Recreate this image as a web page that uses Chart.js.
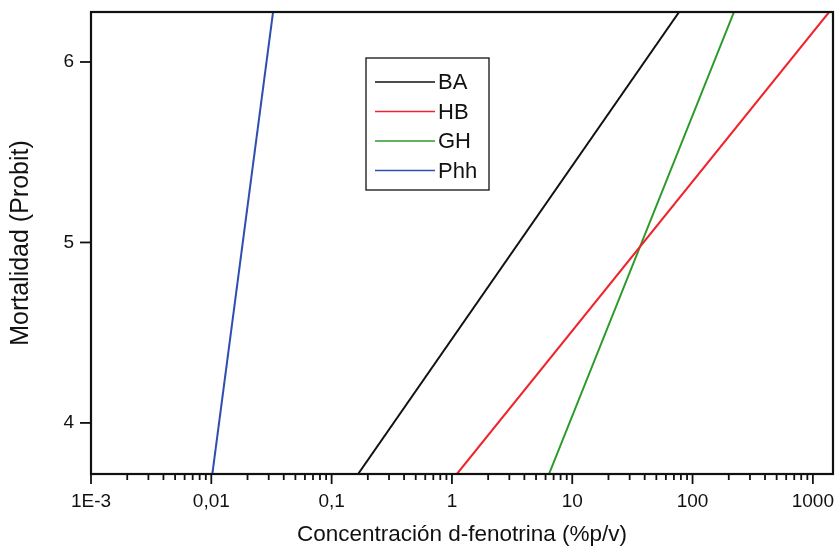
<!DOCTYPE html>
<html>
<head>
<meta charset="utf-8">
<script src="https://cdn.jsdelivr.net/npm/chart.js@4.4.1/dist/chart.umd.min.js"></script>
<style>
  html, body { margin: 0; padding: 0; background: #fff; }
  #wrap { width: 840px; height: 548px; }
</style>
</head>
<body>
<div id="wrap"><canvas id="probitChart"></canvas></div>
<script>
// Probit lines: [bottom, top] of the plot, concentration (%p/v)
const seriesLabels = ['BA', 'HB', 'GH', 'Phh'];
const probitEnds = [3.717, 6.277];
const concBA = [0.166, 77.3];
const concHB = [1.10, 1365];
const concGH = [6.41, 221];
const concPhh = [0.0102, 0.0326];

const xTickValues = [0.001, 0.01, 0.1, 1, 10, 100, 1000];
const xTickLabels = ['1E-3', '0,01', '0,1', '1', '10', '100', '1000'];
const yTickValues = [4, 5, 6];

const xMin = 0.001, xMax = 1470;
const lineColors = ['#111111', '#f0222c', '#2b9a2b', '#2f4fb0'];
const FONT = '"Liberation Sans", Arial, sans-serif';

function toPoints(conc) {
    return conc.map((c, i) => ({ x: c, y: probitEnds[i] }));
}

const allConc = [concBA, concHB, concGH, concPhh];

// own tick marks (major/minor lengths differ) + frame + legend box
const frameAndTicks = {
    id: 'frameAndTicks',
    afterDraw(chart) {
        const ctx = chart.ctx;
        const a = chart.chartArea;
        const xs = chart.scales.x, ys = chart.scales.y;
        ctx.save();
        ctx.strokeStyle = '#111';
        ctx.lineWidth = 1.8;
        xs.ticks.forEach(t => {
            const px = xs.getPixelForValue(t.value);
            const major = xTickValues.some(v => Math.abs(v - t.value) < v * 1e-6);
            ctx.beginPath();
            ctx.moveTo(px, a.bottom);
            ctx.lineTo(px, a.bottom + (major ? 10 : 6));
            ctx.stroke();
        });
        ys.ticks.forEach(t => {
            const py = ys.getPixelForValue(t.value);
            ctx.beginPath();
            ctx.moveTo(a.left, py);
            ctx.lineTo(a.left - 11, py);
            ctx.stroke();
        });
        ctx.lineWidth = 2.2;
        ctx.strokeRect(a.left, a.top, a.right - a.left, a.bottom - a.top);

        // legend
        const lx = 366, ly = 58, lw = 123, lh = 132;
        ctx.lineWidth = 1.4;
        ctx.strokeStyle = '#222';
        ctx.strokeRect(lx, ly, lw, lh);
        ctx.font = '22px ' + FONT;
        ctx.textBaseline = 'middle';
        ctx.fillStyle = '#111';
        chart.data.datasets.forEach((ds, i) => {
            const ry = 82 + i * 29.5;
            ctx.strokeStyle = ds.borderColor;
            ctx.lineWidth = 1.6;
            ctx.beginPath();
            ctx.moveTo(375, ry);
            ctx.lineTo(435, ry);
            ctx.stroke();
            ctx.fillText(ds.label, 438, ry + 1);
        });
        ctx.restore();
    }
};

new Chart(document.getElementById('probitChart'), {
    type: 'line',
    data: {
        datasets: seriesLabels.map((lab, i) => ({
            label: lab,
            data: toPoints(allConc[i]),
            borderColor: lineColors[i],
            borderWidth: 2,
            pointRadius: 0,
            fill: false,
            tension: 0
        }))
    },
    options: {
        responsive: true,
        maintainAspectRatio: false,
        animation: false,
        layout: { padding: { top: 12, right: 7, left: 0, bottom: 0 } },
        plugins: {
            legend: { display: false },
            tooltip: { enabled: false }
        },
        scales: {
            x: {
                type: 'logarithmic',
                min: xMin,
                max: xMax,
                afterBuildTicks(scale) {
                    const t = [];
                    for (let e = -3; e <= 3; e++) {
                        for (let m = 1; m <= 9; m++) {
                            const v = m * Math.pow(10, e);
                            if (v >= xMin * 0.999 && v <= xMax) t.push({ value: v });
                        }
                    }
                    scale.ticks = t;
                },
                afterFit(scale) {
                    scale.height = 74;
                    scale.paddingLeft = 0;
                    scale.paddingRight = 0;
                },
                grid: { display: false, drawTicks: false },
                border: { display: false },
                ticks: {
                    autoSkip: false,
                    maxRotation: 0,
                    padding: 16,
                    color: '#111',
                    font: { family: FONT, size: 19 },
                    callback(value) {
                        const k = xTickValues.findIndex(v => Math.abs(v - value) < v * 1e-6);
                        return k >= 0 ? xTickLabels[k] : '';
                    }
                },
                title: {
                    display: true,
                    text: 'Concentración d-fenotrina (%p/v)',
                    color: '#111',
                    font: { family: FONT, size: 22.5 },
                    padding: { top: 4, bottom: 0 }
                }
            },
            y: {
                type: 'linear',
                min: probitEnds[0],
                max: probitEnds[1],
                afterBuildTicks(scale) {
                    scale.ticks = yTickValues.map(v => ({ value: v }));
                },
                afterFit(scale) {
                    scale.width = 91;
                    scale.paddingTop = 0;
                    scale.paddingBottom = 0;
                },
                grid: { display: false, drawTicks: false },
                border: { display: false },
                ticks: {
                    padding: 17,
                    color: '#111',
                    font: { family: FONT, size: 19 }
                },
                title: {
                    display: true,
                    text: 'Mortalidad (Probit)',
                    color: '#111',
                    font: { family: FONT, size: 25 },
                    padding: { top: 6, bottom: 0 }
                }
            }
        }
    },
    plugins: [frameAndTicks]
});
</script>
</body>
</html>
